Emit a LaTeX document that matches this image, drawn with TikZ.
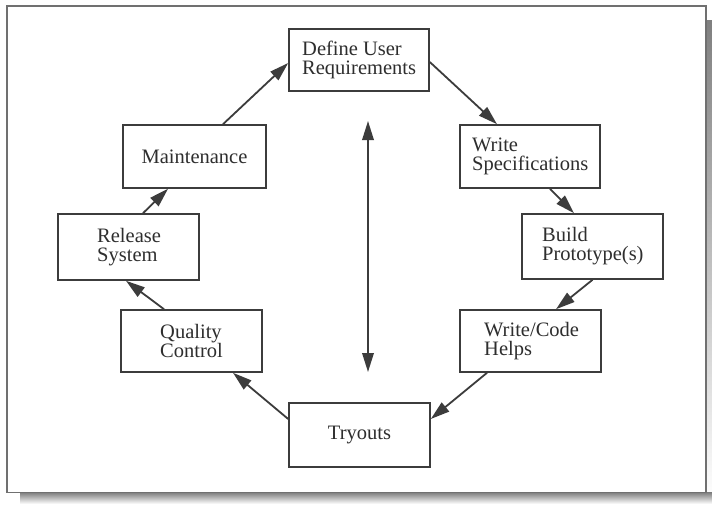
\documentclass[tikz,border=0pt]{standalone}
\usepackage{fontspec}
\setmainfont{Liberation Serif}
\usetikzlibrary{arrows.meta}
\definecolor{ink}{HTML}{2E2E2E}
\definecolor{edge}{HTML}{3C3C3C}
\definecolor{frameline}{HTML}{707070}
\definecolor{shade}{HTML}{9A9A9A}
\tikzset{
  box/.style={draw=edge, line width=1.6pt, fill=white, rectangle, inner sep=0pt},
  lbl/.style={text=ink, inner sep=0pt, align=left, font=\fontsize{20.5}{19}\selectfont},
  flow/.style={draw=edge, line width=1.8pt, -{Triangle[length=19pt,width=11.5pt]}},
}
\begin{document}
\begin{tikzpicture}[x=1pt, y=-1pt]
  \useasboundingbox (0,0) rectangle (712,504);
  \fill[white] (0,0) rectangle (712,504);
  % page shadow: strip along the right edge and strip along the bottom edge
  \fill[shade] (706,20) rectangle (712,504);
  \fill[shade] (20,492.5) rectangle (712,504);
  % page frame
  \draw[frameline, line width=1.6pt] (7,6) rectangle (706,492.5);

  % process boxes
  \node[box, minimum width=140pt, minimum height=62pt] (def)   at (359,60)    {};
  \node[box, minimum width=143pt, minimum height=63pt] (maint) at (194.5,156.5) {};
  \node[box, minimum width=141pt, minimum height=66pt] (rel)   at (128.5,247) {};
  \node[box, minimum width=141pt, minimum height=62pt] (qc)    at (191.5,341) {};
  \node[box, minimum width=141pt, minimum height=64pt] (try)   at (359.5,435) {};
  \node[box, minimum width=140pt, minimum height=63pt] (ws)    at (530,156.5) {};
  \node[box, minimum width=141pt, minimum height=65pt] (bp)    at (592.5,246.5) {};
  \node[box, minimum width=141pt, minimum height=62pt] (wc)    at (530.5,341) {};

  % box texts
  \node[lbl, anchor=west] (tdef)   at (302,60)  {Define User\\Requirements};
  \node[lbl]              (tmaint) at (maint)   {Maintenance};
  \node[lbl, anchor=west] (trel)   at (97,247)  {Release\\System};
  \node[lbl, anchor=west] (tqc)    at (160,341) {Quality\\Control};
  \node[lbl]              (ttry)   at (try)     {Tryouts};
  \node[lbl, anchor=west] (tws)    at (472,156.5) {Write\\Specifications};
  \node[lbl, anchor=west] (tbp)    at (542,246.5) {Build\\Prototype(s)};
  \node[lbl, anchor=west] (twc)    at (484,341) {Write/Code\\Helps};

  % cycle connectors
  \draw[flow] ([xshift=28.5pt]maint.north) -- ([yshift=-3pt]def.west);
  \draw[flow] ([yshift=-2pt]def.east) -- ([xshift=-33pt]ws.north);
  \draw[flow] ([xshift=20pt]ws.south) -- ([xshift=-18.5pt]bp.north);
  \draw[flow] ([xshift=0pt]bp.south) -- ([xshift=25.5pt]wc.north);
  \draw[flow] ([xshift=-43.5pt]wc.south) -- ([yshift=16pt]try.east);
  \draw[flow] ([yshift=16pt]try.west) -- ([xshift=41.5pt]qc.south);
  \draw[flow] ([xshift=-27.5pt]qc.north) -- ([xshift=-2.5pt]rel.south);
  \draw[flow] ([xshift=14.5pt]rel.north) -- ([xshift=-26.5pt]maint.south);

  % central two-way arrow
  \coordinate (vtop) at (368,121);
  \coordinate (vbot) at (368,372);
  \draw[draw=edge, line width=1.8pt, {Triangle[length=19pt,width=11.5pt]}-{Triangle[length=19pt,width=11.5pt]}] (vtop) -- (vbot);
\end{tikzpicture}
\end{document}
